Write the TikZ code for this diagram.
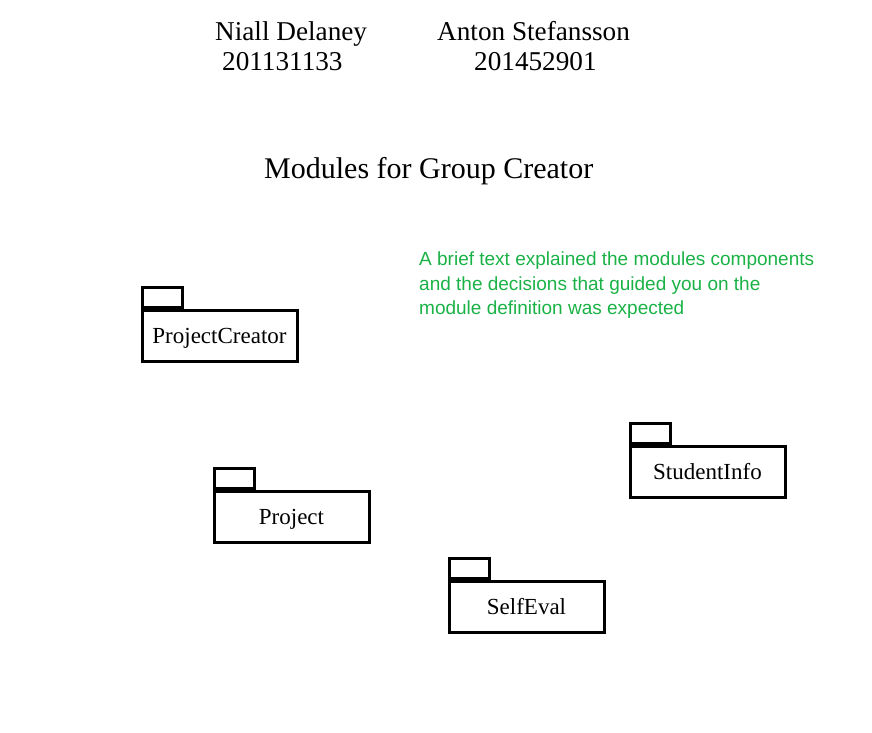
\documentclass[tikz,border=0pt]{standalone}
\usepackage{fontspec}
\setmainfont{Liberation Serif}
\newfontfamily\notefont{Liberation Sans}
\usetikzlibrary{positioning}
\definecolor{noteGreen}{RGB}{26,178,70}
\tikzset{
    pkgBody/.style={draw, line width=3pt, minimum width=155pt, minimum height=51pt, inner sep=0pt, text height=16pt, text depth=1pt, font=\fontsize{23}{26}\selectfont},
    pkgTab/.style={draw, line width=3pt, minimum width=40pt, minimum height=20pt, inner sep=0pt, anchor=south west},
    headText/.style={inner sep=0pt, anchor=base west, font=\fontsize{27.2}{30}\selectfont},
    noteText/.style={inner sep=0pt, anchor=north west, align=left, text=noteGreen, font=\notefont\fontsize{19}{24.5}\selectfont},
}
\newcommand{\drawPackage}[3]{
    % body of the package, then its tab on top
    \node[pkgBody] (#1) at (#2) {#3};
    \node[pkgTab] (#1Tab) at (#1.north west) {};
}

\begin{document}
\begin{tikzpicture}[x=1pt, y=-1pt]
        \useasboundingbox (0,0) rectangle (872,732);

        \node[headText] (nameA) at (215,40) {Niall Delaney};
        \node[headText] (idA) at (222,70) {201131133};
        \node[headText] (nameB) at (437,40) {Anton Stefansson};
        \node[headText] (idB) at (474,70) {201452901};
        \node[headText, font=\fontsize{30}{33}\selectfont] (title) at (264,178) {Modules for Group Creator};

        \node[noteText] (note) at (419,252) {A brief text explained the modules components\\and the decisions that guided you on the\\module definition was expected};

        \drawPackage{creator}{219.5,335.5}{ProjectCreator}
        \drawPackage{project}{291.5,516.5}{Project}
        \drawPackage{student}{707.5,471.5}{StudentInfo}
        \drawPackage{selfEval}{526.5,606.5}{SelfEval}

    \end{tikzpicture}
\end{document}
